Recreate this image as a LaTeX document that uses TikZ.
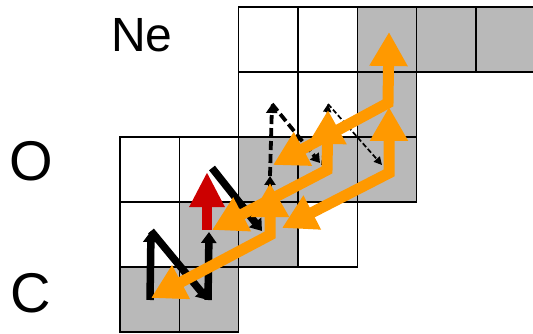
\documentclass[tikz,border=0pt]{standalone}
\usepackage{fontspec}
\setmainfont{Liberation Sans}
\usetikzlibrary{arrows.meta}
\definecolor{cellgray}{RGB}{185,185,185}
\definecolor{orng}{RGB}{255,153,0}
\definecolor{redarr}{RGB}{204,0,0}
\begin{document}
\begin{tikzpicture}[x=1pt,y=-1pt,
  cell/.style={draw=black, line width=1.4pt, minimum width=59.33pt, minimum height=65pt, inner sep=0pt, outer sep=0pt, fill=white},
  shaded/.style={cell, fill=cellgray},
  lbl/.style={inner sep=0pt, outer sep=0pt},
  cnoI/.style={draw=black, line width=7.5pt, line cap=butt, -{Triangle[width=15pt,length=11pt]}},
  cnoII/.style={draw=black, line width=3.8pt, dash pattern=on 9pt off 4pt, -{Triangle[width=11pt,length=9pt]}},
  cnoIII/.style={draw=black, line width=1.7pt, dash pattern=on 5pt off 2.5pt, -{Triangle[width=8pt,length=8pt]}},
  orangearr/.style={draw=orng, line width=11pt, line join=miter, {Triangle[width=36pt,length=34pt]}-{Triangle[width=36pt,length=34pt]}},
  redarrow/.style={draw=redarr, line width=10pt, -{Triangle[width=33pt,length=35pt]}}
]
\useasboundingbox (0,0) rectangle (533,334);
\clip (0,0) rectangle (533,334);
\fill[white] (0,0) rectangle (533,334);
% row Ne
\node[cell]   (Ne18) at (268.33,39.5) {};
\node[cell]   (Ne19) at (327.67,39.5) {};
\node[shaded] (Ne20) at (387,39.5) {};
\node[shaded] (Ne21) at (446.33,39.5) {};
\node[shaded] (Ne22) at (505.67,39.5) {};
% row F
\node[cell]   (F17) at (268.33,104.5) {};
\node[cell]   (F18) at (327.67,104.5) {};
\node[shaded] (F19) at (387,104.5) {};
% row O
\node[cell]   (O14) at (149.67,169.5) {};
\node[cell]   (O15) at (209,169.5) {};
\node[shaded] (O16) at (268.33,169.5) {};
\node[shaded] (O17) at (327.67,169.5) {};
\node[shaded] (O18) at (387,169.5) {};
% row N
\node[cell]   (N13) at (149.67,234.5) {};
\node[shaded] (N14) at (209,234.5) {};
\node[shaded] (N15) at (268.33,234.5) {};
\node[cell]   (N16) at (327.67,234.5) {};
% row C
\node[shaded] (C12) at (149.67,299.5) {};
\node[shaded] (C13) at (209,299.5) {};
% labels
\node[lbl, anchor=base west, font=\fontsize{48}{48}\selectfont] (lNe) at (111,52) {Ne};
\node[lbl, anchor=base, font=\fontsize{56}{56}\selectfont] (lO) at (31.5,181) {O};
\node[lbl, anchor=base, font=\fontsize{56}{56}\selectfont] (lC) at (30.5,312) {C};
% path points
\coordinate (a1) at (150,300);
\coordinate (a2) at (151,231);
\coordinate (a3) at (208,300);
\coordinate (a4) at (209,232);
\coordinate (a5) at (212,168);
\coordinate (a6) at (262,231);
\coordinate (b1) at (270,232);
\coordinate (b2) at (270,176);
\coordinate (b3) at (272,104);
\coordinate (b4) at (320,163);
\coordinate (c1) at (322,165);
\coordinate (c2) at (328,104);
\coordinate (c3) at (382,165);
\coordinate (r1) at (207,230);
\coordinate (r2) at (207,172);
% black CNO I
\draw[cnoI] (a1) -- (a2);
\draw[cnoI] (a2) -- (a3);
\draw[cnoI] (a3) -- (a4);
\draw[cnoI] (a5) -- (a6);
% CNO II
\draw[cnoII] (b1) -- (b2);
\draw[cnoII] (b2) -- (b3);
\draw[cnoII] (b3) -- (b4);
% CNO III
\draw[cnoIII] (c1) -- (c2);
\draw[cnoIII] (c2) -- (c3);
% red
\draw[redarrow] (r1) -- (r2);
% orange
\coordinate (o1c) at (270,235);
\coordinate (o1d) at (151,298);
\coordinate (o1v) at (270,183);
\coordinate (o2c) at (327,170);
\coordinate (o2d) at (212,230);
\coordinate (o2v) at (328,110);
\coordinate (o3c) at (389,173);
\coordinate (o3d) at (282,228);
\coordinate (o3v) at (389,107);
\coordinate (o4c) at (388,103);
\coordinate (o4d) at (273,165);
\coordinate (o4v) at (389,32);
\draw[orangearr] (o1d) -- (o1c) -- (o1v);
\draw[orangearr] (o2d) -- (o2c) -- (o2v);
\draw[orangearr] (o3d) -- (o3c) -- (o3v);
\draw[orangearr] (o4d) -- (o4c) -- (o4v);
\end{tikzpicture}
\end{document}
